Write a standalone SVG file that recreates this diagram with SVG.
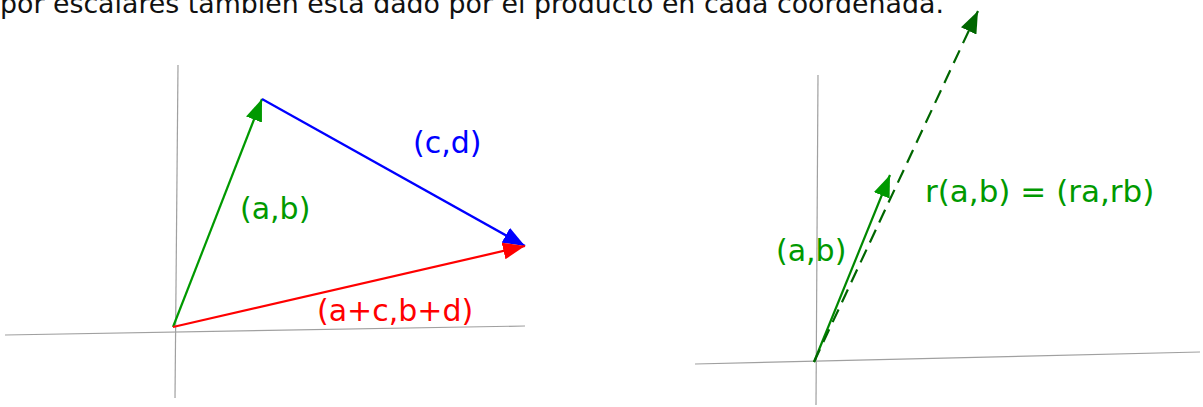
<svg xmlns="http://www.w3.org/2000/svg" width="1203" height="407" viewBox="0 0 1203 407">
<style>
text{font-family:"DejaVu Sans",Verdana,sans-serif;font-size:30px}
.axis{stroke:#a0a0a0;stroke-width:1.2;fill:none}
.vec{stroke-width:2.2;fill:none}
</style>
<defs>
<marker id="ag" viewBox="0 0 22 17" refX="22" refY="8.5" markerWidth="22" markerHeight="17" markerUnits="userSpaceOnUse" orient="auto"><path d="M0,0 L22,8.5 L0,17 Z" fill="#009900"/></marker>
<marker id="ab" viewBox="0 0 22 17" refX="22" refY="8.5" markerWidth="22" markerHeight="17" markerUnits="userSpaceOnUse" orient="auto"><path d="M0,0 L22,8.5 L0,17 Z" fill="#0000ff"/></marker>
<marker id="ar" viewBox="0 0 22 17" refX="22" refY="8.5" markerWidth="22" markerHeight="17" markerUnits="userSpaceOnUse" orient="auto"><path d="M0,0 L22,8.5 L0,17 Z" fill="#ff0000"/></marker>
<marker id="ad" viewBox="0 0 22 17" refX="22" refY="8.5" markerWidth="22" markerHeight="17" markerUnits="userSpaceOnUse" orient="auto"><path d="M0,0 L22,8.5 L0,17 Z" fill="#006600"/></marker>
</defs>
<text x="0" y="13" style="font-size:26.8px" fill="#111">por escalares también está dado por el producto en cada coordenada.</text>
<g id="axes">
<line class="axis" x1="5" y1="335" x2="525" y2="326"/>
<line class="axis" x1="178" y1="65" x2="175" y2="398"/>
<line class="axis" x1="695" y1="364" x2="1200" y2="352"/>
<line class="axis" x1="818" y1="75" x2="816" y2="405"/>
</g>
<g id="connectors">
<line class="vec" stroke="#009900" x1="173" y1="327" x2="262" y2="99" marker-end="url(#ag)"/>
<line class="vec" stroke="#0000ff" x1="262" y1="99" x2="525" y2="246" marker-end="url(#ab)"/>
<line class="vec" stroke="#ff0000" x1="173" y1="327" x2="525" y2="246" marker-end="url(#ar)"/>
<line class="vec" stroke="#008800" stroke-width="2.6" x1="814" y1="362" x2="890" y2="175" marker-end="url(#ag)"/>
<line class="vec" stroke="#006600" stroke-dasharray="14 8" x1="814" y1="362" x2="978" y2="11" marker-end="url(#ad)"/>
</g>
<g id="label-cd"><text x="413" y="153" fill="#0000ff">(c,d)</text></g>
<g id="label-ab"><text x="240" y="219" fill="#009900">(a,b)</text></g>
<g id="label-sum"><text x="317" y="321" fill="#ff0000">(a+c,b+d)</text></g>
<g id="label-ab2"><text x="776" y="261" fill="#009900">(a,b)</text></g>
<g id="label-rab"><text x="925" y="202" fill="#009900" style="font-size:31px">r(a,b) = (ra,rb)</text></g>
</svg>
